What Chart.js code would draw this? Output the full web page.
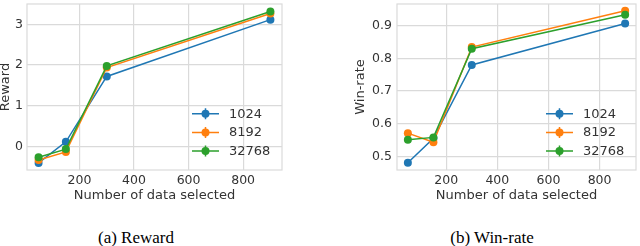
<!DOCTYPE html>
<html>
<head>
<meta charset="utf-8">
<script src="https://cdn.jsdelivr.net/npm/chart.js@4.4.1/dist/chart.umd.min.js"></script>
<style>
  body { margin: 0; width: 640px; height: 246px; background: #fff; position: relative; overflow: hidden; }
  canvas { position: absolute; top: 0; }
  .cap { position: absolute; top: 228px; font: 17px "Liberation Serif", serif; color: #000; transform: translateX(-50%); white-space: nowrap; }
</style>
</head>
<body>
<canvas id="rewardChart" width="320" height="206" style="left:0"></canvas>
<canvas id="winChart" width="320" height="206" style="left:320px"></canvas>
<div class="cap" style="left:136px">(a) Reward</div>
<div class="cap" style="left:492px">(b) Win-rate</div>
<script>
const dataSizes = [50, 150, 300, 900];
const seriesNames = ['1024', '8192', '32768'];
const seriesColors = ['#1f77b4', '#ff7f0e', '#2ca02c'];

const reward1024 = [-0.41, 0.11, 1.72, 3.12];
const reward8192 = [-0.34, -0.14, 1.94, 3.27];
const reward32768 = [-0.27, -0.07, 1.98, 3.32];

const winRate1024 = [0.48, 0.555, 0.780, 0.907];
const winRate8192 = [0.571, 0.543, 0.835, 0.946];
const winRate32768 = [0.551, 0.558, 0.830, 0.934];

const xTicks = [200, 400, 600, 800];
const rewardTicks = [0, 1, 2, 3];
const winRateTicks = [0.5, 0.6, 0.7, 0.8, 0.9];

const gridColor = '#dadada';
const textColor = '#333';
const font = 'DejaVu Sans';

// plot frame + legend drawn inside the plot area (lower right)
const frameAndLegend = {
  id: 'frameAndLegend',
  beforeDatasetsDraw(chart) {
    const { ctx, chartArea: a } = chart;
    ctx.save();
    ctx.strokeStyle = gridColor;
    ctx.lineWidth = 1.2;
    ctx.strokeRect(a.left, a.top, a.right - a.left, a.bottom - a.top);
    ctx.restore();
  },
  afterDraw(chart) {
    const { ctx, chartArea: a } = chart;
    const ds = chart.data.datasets;
    const x0 = a.right - 90;
    ctx.save();
    ctx.font = '13px "' + font + '"';
    ctx.textBaseline = 'middle';
    ds.forEach((d, i) => {
      const y = a.bottom - 19 - (ds.length - 1 - i) * 18.6;
      ctx.strokeStyle = d.borderColor;
      ctx.fillStyle = d.borderColor;
      ctx.lineWidth = 1.5;
      ctx.beginPath();
      ctx.moveTo(x0, y);
      ctx.lineTo(x0 + 27, y);
      ctx.moveTo(x0 + 13.5, y - 5.5);
      ctx.lineTo(x0 + 13.5, y + 5.5);
      ctx.stroke();
      ctx.beginPath();
      ctx.arc(x0 + 13.5, y, 4, 0, Math.PI * 2);
      ctx.fill();
      ctx.fillStyle = textColor;
      ctx.fillText(d.label, x0 + 37, y + 0.5);
    });
    ctx.restore();
  }
};

function noPad(s) {
  s.paddingTop = 0;
  s.paddingBottom = 0;
  s.paddingLeft = 0;
  s.paddingRight = 0;
}

function makeDatasets(series) {
  return series.map((vals, i) => ({
    label: seriesNames[i],
    data: dataSizes.map((x, j) => ({ x: x, y: vals[j] })),
    borderColor: seriesColors[i],
    backgroundColor: seriesColors[i],
    borderWidth: 1.5,
    pointRadius: 4,
    pointBorderWidth: 0,
    tension: 0,
    clip: false,
    order: series.length - i
  }));
}

function makeChart(id, series, opts) {
  return new Chart(document.getElementById(id), {
    type: 'line',
    data: { datasets: makeDatasets(series) },
    plugins: [frameAndLegend],
    options: {
      responsive: false,
      animation: false,
      devicePixelRatio: 1,
      layout: { padding: { left: 0, top: 0, right: opts.padRight, bottom: 0 } },
      plugins: { legend: { display: false }, tooltip: { enabled: false } },
      scales: {
        x: {
          type: 'linear',
          min: 7.5,
          max: 942.5,
          afterFit: s => { s.height = 36; noPad(s); },
          afterBuildTicks: s => { s.ticks = xTicks.map(v => ({ value: v })); },
          grid: { color: gridColor, lineWidth: 1.2, drawTicks: false },
          border: { display: false },
          ticks: { padding: 3, maxRotation: 0, color: textColor, font: { family: font, size: 12.5 } },
          title: {
            display: true,
            text: 'Number of data selected',
            color: textColor,
            padding: { top: 0, bottom: 3 },
            font: { family: font, size: 13, lineHeight: 1.2 }
          }
        },
        y: {
          min: opts.yMin,
          max: opts.yMax,
          afterFit: s => { s.width = opts.axisWidth; noPad(s); },
          afterBuildTicks: s => { s.ticks = opts.yTicks.map(v => ({ value: v })); },
          grid: { color: gridColor, lineWidth: 1.2, drawTicks: false },
          border: { display: false },
          ticks: { padding: opts.tickPad, color: textColor, font: { family: font, size: 12.5 } },
          title: {
            display: true,
            text: opts.yTitle,
            color: textColor,
            padding: { top: opts.titlePad, bottom: 0 },
            font: { family: font, size: 13, lineHeight: 1 }
          }
        }
      }
    }
  });
}

makeChart('rewardChart', [reward1024, reward8192, reward32768], {
  yMin: -0.585, yMax: 3.505, yTicks: rewardTicks, yTitle: 'Reward',
  axisWidth: 27, tickPad: 4, titlePad: -1, padRight: 38
});

makeChart('winChart', [winRate1024, winRate8192, winRate32768], {
  yMin: 0.458, yMax: 0.967, yTicks: winRateTicks, yTitle: 'Win-rate',
  axisWidth: 77, tickPad: 5, titlePad: 34.5, padRight: 0
});
</script>
</body>
</html>
